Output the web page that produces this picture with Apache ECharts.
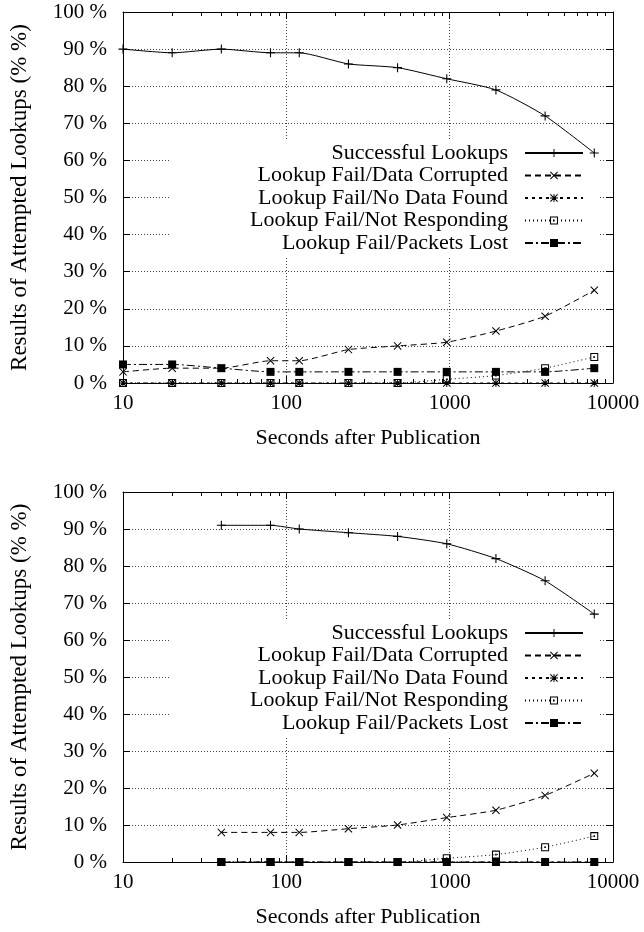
<!DOCTYPE html>
<html>
<head>
<meta charset="utf-8">
<title>Results of Attempted Lookups</title>
<script src="https://cdn.jsdelivr.net/npm/echarts@6/dist/echarts.min.js"></script>
<style>
  html, body { margin: 0; padding: 0; background: #fff; }
  #chart { width: 644px; height: 932px; }
</style>
</head>
<body>
<div id="chart"></div>
<script>
// seconds after publication
var secondsTop = [10, 20, 40, 80, 120, 240, 480, 960, 1920, 3840, 7680];
var secondsBottom = [40, 80, 120, 240, 480, 960, 1920, 3840, 7680];

var seriesNames = [
  'Successful Lookups',
  'Lookup Fail/Data Corrupted',
  'Lookup Fail/No Data Found',
  'Lookup Fail/Not Responding',
  'Lookup Fail/Packets Lost'
];

// upper chart (%)
var successTop   = [90, 89, 90, 89, 89, 86, 85, 82, 79, 72, 62];
var corruptTop   = [3, 4, 4, 6, 6, 9, 10, 11, 14, 18, 25];
var noDataTop    = [0, 0, 0, 0, 0, 0, 0, 0, 0, 0, 0];
var notRespTop   = [0, 0, 0, 0, 0, 0, 0, 1, 2, 4, 7];
var lostTop      = [5, 5, 4, 3, 3, 3, 3, 3, 3, 3, 4];

// lower chart (%)
var successBottom = [91, 91, 90, 89, 88, 86, 82, 76, 67];
var corruptBottom = [8, 8, 8, 9, 10, 12, 14, 18, 24];
var noDataBottom  = [0, 0, 0, 0, 0, 0, 0, 0, 0];
var notRespBottom = [0, 0, 0, 0, 0, 1, 2, 4, 7];
var lostBottom    = [0, 0, 0, 0, 0, 0, 0, 0, 0];

// axes
var xMin = 10, xMax = 10000;
var yMin = 0, yMax = 100, yStep = 10;
var xDecades = [10, 100, 1000];

var FONT = '"Liberation Serif", "Times New Roman", serif';

// gnuplot-like point types
var SYM_PLUS = 'path://M4.4,0H5.6V4.4H10V5.6H5.6V10H4.4V5.6H0V4.4H4.4Z';
var SYM_CROSS = 'path://M0,0.9L0.9,0L5,4.1L9.1,0L10,0.9L5.9,5L10,9.1L9.1,10L5,5.9L0.9,10L0,9.1L4.1,5Z';
var SYM_STAR = SYM_PLUS + ' ' + SYM_CROSS.replace('path://', '');
var SYM_BOXDOT = 'path://M0,0H10V10H0Z M1.3,1.3V8.7H8.7V1.3Z M4,4H6V6H4Z';

var styles = [
  { symbol: SYM_PLUS, size: 9, dash: 'solid' },
  { symbol: SYM_CROSS, size: 8, dash: [6, 4] },
  { symbol: SYM_STAR, size: 8, dash: [3, 4] },
  { symbol: SYM_BOXDOT, size: 8, dash: [1, 3] },
  { symbol: 'rect', size: 8, dash: [8, 3, 2, 3] }
];

// minor ticks on log axis, placed on a linear log10 axis
var minorTicks = [];
xDecades.forEach(function (d) {
  for (var m = 2; m <= 9; m++) minorTicks.push(Math.log10(m * d));
});

var grids = [
  { left: 123, top: 12, width: 490, height: 371 },
  { left: 123, top: 492, width: 490, height: 370 }
];
var legendTops = [140, 620];

function pairs(xs, ys) {
  return xs.map(function (x, i) { return [x, ys[i]]; });
}

var xAxes = [], yAxes = [], legends = [], series = [];

grids.forEach(function (g, gi) {
  xAxes.push({
    type: 'log', logBase: 10, gridIndex: gi, min: xMin, max: xMax, position: 'bottom',
    name: 'Seconds after Publication', nameLocation: 'middle', nameGap: 44,
    nameTextStyle: { fontFamily: FONT, fontSize: 22, color: '#000' },
    axisLine: { show: true, onZero: false, lineStyle: { color: '#000', width: 1 } },
    axisTick: { show: true, inside: true, length: 7, lineStyle: { color: '#000' } },
    axisLabel: {
      margin: 10, fontFamily: FONT, fontSize: 21, color: '#000',
      formatter: function (v) { return String(v); }
    },
    splitLine: { show: true, lineStyle: { color: '#444', width: 1, type: [1, 2] } }
  });
  xAxes.push({
    type: 'log', logBase: 10, gridIndex: gi, min: xMin, max: xMax, position: 'top',
    axisLine: { show: true, onZero: false, lineStyle: { color: '#000', width: 1 } },
    axisTick: { show: true, inside: true, length: 7, lineStyle: { color: '#000' } },
    axisLabel: { show: false },
    splitLine: { show: false }
  });
  ['bottom', 'top'].forEach(function (pos) {
    xAxes.push({
      type: 'value', gridIndex: gi, min: Math.log10(xMin), max: Math.log10(xMax), position: pos,
      axisLine: { show: false, onZero: false },
      axisTick: { show: true, inside: true, length: 4, customValues: minorTicks, lineStyle: { color: '#000' } },
      axisLabel: { show: false },
      splitLine: { show: false }
    });
  });

  yAxes.push({
    type: 'value', gridIndex: gi, min: yMin, max: yMax, interval: yStep, position: 'left',
    name: 'Results of Attempted Lookups (% %)', nameLocation: 'middle', nameGap: 92,
    nameTextStyle: { fontFamily: FONT, fontSize: 23, color: '#000' },
    axisLine: { show: true, onZero: false, lineStyle: { color: '#000', width: 1 } },
    axisTick: { show: true, inside: true, length: 7, lineStyle: { color: '#000' } },
    axisLabel: { margin: 16, formatter: '{value} %', fontFamily: FONT, fontSize: 21, color: '#000' },
    splitLine: { show: true, lineStyle: { color: '#444', width: 1, type: [1, 2] } }
  });
  yAxes.push({
    type: 'value', gridIndex: gi, min: yMin, max: yMax, interval: yStep, position: 'right',
    axisLine: { show: true, onZero: false, lineStyle: { color: '#000', width: 1 } },
    axisTick: { show: true, inside: true, length: 7, lineStyle: { color: '#000' } },
    axisLabel: { show: false },
    splitLine: { show: false }
  });

  legends.push({
    orient: 'vertical', align: 'right', right: 44, top: legendTops[gi],
    itemWidth: 58, itemHeight: 10, itemGap: 0.5,
    padding: [2, 16, 2, 80], backgroundColor: '#fff', z: 1,
    selectedMode: false,
    textStyle: { fontFamily: FONT, fontSize: 22, color: '#000', lineHeight: 22, padding: [0, 12, 0, 0] },
    data: seriesNames
  });
});

var dataTop = [successTop, corruptTop, noDataTop, notRespTop, lostTop];
var dataBottom = [successBottom, corruptBottom, noDataBottom, notRespBottom, lostBottom];

[[secondsTop, dataTop], [secondsBottom, dataBottom]].forEach(function (set, gi) {
  set[1].forEach(function (vals, si) {
    var st = styles[si];
    series.push({
      name: seriesNames[si],
      type: 'line',
      xAxisIndex: gi * 4,
      yAxisIndex: gi * 2,
      data: pairs(set[0], vals),
      symbol: st.symbol,
      symbolSize: st.size,
      showSymbol: true,
      smooth: 0.2,
      itemStyle: { color: '#000' },
      lineStyle: { color: '#000', width: 1, type: st.dash },
      z: 2 + si * 0.1
    });
  });
});

var myChart = echarts.init(document.getElementById('chart'));
myChart.setOption({
  animation: false,
  backgroundColor: '#fff',
  grid: grids,
  xAxis: xAxes,
  yAxis: yAxes,
  legend: legends,
  series: series
});
</script>
</body>
</html>
